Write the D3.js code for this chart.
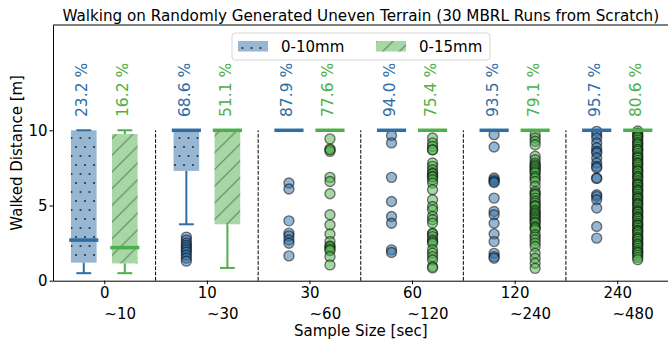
<!DOCTYPE html>
<html>
<head>
<meta charset="utf-8">
<script src="https://cdn.jsdelivr.net/npm/d3@7"></script>
<style>
  body { margin: 0; background: #fff; }
  text { font-family: "DejaVu Sans", sans-serif; }
</style>
</head>
<body>
<div id="chart"></div>
<script>
// sample sizes (x groups) and second label line
const groups = ["0", "10", "30", "60", "120", "240"];
const subLabels = ["~10", "~30", "~60", "~120", "~240", "~480"];
const seriesNames = ["0-10mm", "0-15mm"];

// success rates printed above each box
const pct10 = [23.2, 68.6, 87.9, 94.0, 93.5, 95.7];
const pct15 = [16.2, 51.1, 77.6, 75.4, 79.1, 80.6];

// box stats per group: [whisker low, q1, median, q3, whisker high]
const box10 = [
  [0.5, 1.2, 2.7, 10, 10],
  [3.75, 7.3, 10, 10, 10],
  [10, 10, 10, 10, 10],
  [10, 10, 10, 10, 10],
  [10, 10, 10, 10, 10],
  [10, 10, 10, 10, 10]
];
const box15 = [
  [0.5, 1.15, 2.2, 9.75, 10],
  [0.85, 3.75, 10, 10, 10],
  [10, 10, 10, 10, 10],
  [10, 10, 10, 10, 10],
  [10, 10, 10, 10, 10],
  [10, 10, 10, 10, 10]
];

// outliers per group
const fliers10 = [
  [],
  [2.9, 2.7, 2.5, 2.35, 2.2, 2.05, 1.9, 1.7, 1.5, 1.3],
  [6.5, 6.1, 3.98, 3.16, 2.98, 2.71, 2.49, 1.65],
  [9.65, 9.16, 6.87, 5.27, 4.27, 3.82, 2.05, 1.87],
  [9.71, 8.89, 6.83, 6.7, 6.6, 6.53, 5.49, 4.6, 4.38, 3.82, 3.11, 2.6, 1.82, 1.6, 1.49],
  [9.93, 9.7, 9.49, 9.16, 8.83, 8.6, 8.49, 8.16, 7.83, 7.6, 7.49, 6.83, 6.8, 5.71, 5.6, 5.38, 4.83, 3.6, 2.83]
];
const fliers15 = [
  [],
  [],
  [9.43, 8.76, 8.6, 8.7, 6.87, 6.6, 5.78, 4.38, 3.71, 3.11, 2.6, 2.31, 2.25, 2.09, 2.0, 1.6, 1.05],
  [9.49, 9.16, 8.93, 8.71, 8.7, 7.83, 7.6, 7.38, 7.16, 7.1, 6.93, 6.9, 6.71, 6.49, 6.05, 5.38, 4.93,
   4.71, 4.27, 4.05, 3.83, 3.16, 3.1, 2.93, 2.71, 2.6, 2.49, 2.05, 1.83, 1.6, 1.38, 0.93, 0.85],
  [9.7, 9.49, 9.27, 9.04, 8.27, 8.04, 7.82, 7.7, 7.6, 7.5, 7.38, 7.25, 7.16, 6.93, 6.8, 6.6, 6.27,
   5.93, 5.8, 5.71, 5.49, 5.3, 5.16, 5.0, 4.93, 4.71, 4.6, 4.49, 4.4, 4.27, 4.15, 4.04, 3.9, 3.82,
   3.6, 3.5, 3.38, 3.05, 2.9, 2.71, 2.5, 2.27, 1.82, 1.49, 1.16, 0.82],
  [9.95, 9.8, 9.65, 9.6, 9.5, 9.35, 9.2, 9.1, 9.05, 8.9, 8.75, 8.7, 8.6, 8.45, 8.3, 8.2, 8.15, 8.0,
   7.85, 7.8, 7.7, 7.55, 7.4, 7.3, 7.25, 7.1, 6.95, 6.9, 6.8, 6.65, 6.5, 6.4, 6.35, 6.2, 6.05, 6.0,
   5.9, 5.75, 5.6, 5.5, 5.45, 5.3, 5.15, 5.1, 5.0, 4.85, 4.7, 4.6, 4.55, 4.4, 4.25, 4.2, 4.1, 3.95,
   3.8, 3.7, 3.65, 3.5, 3.35, 3.3, 3.2, 3.05, 2.9, 2.8, 2.75, 2.6, 2.45, 2.4, 2.3, 2.15, 2.0, 1.9,
   1.85, 1.7, 1.55, 1.4]
];

const blue = "#2f6da5";
const green = "#4daf4a";

const series = [
  { name: seriesNames[0], color: blue, off: -0.2, box: box10, fliers: fliers10, pct: pct10, hatch: "url(#dots)" },
  { name: seriesNames[1], color: green, off: 0.2, box: box15, fliers: fliers15, pct: pct15, hatch: "url(#diag)" }
];

const width = 668, height = 339;
const svg = d3.select("#chart").append("svg").attr("width", width).attr("height", height);

// hatch patterns
const defs = svg.append("defs");
const dots = defs.append("pattern").attr("id", "dots").attr("patternUnits", "userSpaceOnUse")
  .attr("width", 9).attr("height", 18).attr("x", 2).attr("y", 1);
dots.append("circle").attr("cx", 2).attr("cy", 2).attr("r", 1.1).attr("fill", "#253545");
dots.append("circle").attr("cx", 6.5).attr("cy", 11).attr("r", 1.1).attr("fill", "#253545");
const diag = defs.append("pattern").attr("id", "diag").attr("patternUnits", "userSpaceOnUse")
  .attr("width", 16.7).attr("height", 16.7);
diag.append("path").attr("d", "M0,16.7L16.7,0M-4,4L4,-4M12.7,20.7L20.7,12.7")
  .attr("stroke", "#4a5a4a").attr("stroke-opacity", 0.75).attr("stroke-width", 1);

const x = d3.scaleLinear().domain([-0.5, 5.5]).range([53, 668.5]);
const y = d3.scaleLinear().domain([0, 17]).range([280.7, 25]);
const bw = 0.25;

// separators between groups
svg.append("g").selectAll("line").data(d3.range(groups.length - 1)).enter().append("line")
  .attr("x1", d => x(d + 0.5)).attr("x2", d => x(d + 0.5))
  .attr("y1", y(0)).attr("y2", y(10))
  .attr("stroke", "#000").attr("stroke-width", 1).attr("stroke-dasharray", "3.7,1.6");

series.forEach(s => {
  const g = svg.append("g");
  const cx = i => x(i + s.off);

  // boxes
  g.selectAll(".box").data(s.box).enter().append("rect")
    .attr("x", (d, i) => x(i + s.off - bw / 2)).attr("width", x(bw) - x(0))
    .attr("y", d => y(d[3])).attr("height", d => y(d[1]) - y(d[3]))
    .attr("fill", s.color).attr("fill-opacity", 0.5);
  g.selectAll(".hatch").data(s.box).enter().append("rect")
    .attr("x", (d, i) => x(i + s.off - bw / 2)).attr("width", x(bw) - x(0))
    .attr("y", d => y(d[3])).attr("height", d => y(d[1]) - y(d[3]))
    .attr("fill", s.hatch);

  // whiskers
  g.selectAll(".wlo").data(s.box).enter().append("line")
    .attr("x1", (d, i) => cx(i)).attr("x2", (d, i) => cx(i))
    .attr("y1", d => y(d[1])).attr("y2", d => y(d[0]))
    .attr("stroke", s.color).attr("stroke-width", 2);
  g.selectAll(".whi").data(s.box).enter().append("line")
    .attr("x1", (d, i) => cx(i)).attr("x2", (d, i) => cx(i))
    .attr("y1", d => y(d[3])).attr("y2", d => y(d[4]))
    .attr("stroke", s.color).attr("stroke-width", 2);

  // caps
  [0, 4].forEach(k => {
    g.selectAll(".cap" + k).data(s.box).enter().append("line")
      .attr("x1", (d, i) => x(i + s.off - bw / 4)).attr("x2", (d, i) => x(i + s.off + bw / 4))
      .attr("y1", d => y(d[k])).attr("y2", d => y(d[k]))
      .attr("stroke", s.color).attr("stroke-width", 2).attr("stroke-linecap", "square");
  });

  // outliers
  s.fliers.forEach((arr, i) => {
    g.selectAll(".fl" + i).data(arr).enter().append("circle")
      .attr("cx", cx(i)).attr("cy", d => y(d)).attr("r", 5)
      .attr("fill", s.color).attr("fill-opacity", 0.5)
      .attr("stroke", "#000").attr("stroke-opacity", 0.5).attr("stroke-width", 1.4);
  });

  // medians on top
  g.selectAll(".med").data(s.box).enter().append("line")
    .attr("x1", (d, i) => x(i + s.off - bw / 2)).attr("x2", (d, i) => x(i + s.off + bw / 2))
    .attr("y1", d => y(d[2])).attr("y2", d => y(d[2]))
    .attr("stroke", s.color).attr("stroke-width", 3.5).attr("stroke-linecap", "square");

  // percentage labels
  g.selectAll(".pct").data(s.pct).enter().append("text")
    .attr("transform", (d, i) => `translate(${cx(i) + 3.5},117) rotate(-90)`)
    .attr("font-size", 15.5).attr("fill", s.color)
    .text(d => d.toFixed(1) + " %");
});

// axes
const xAxis = svg.append("g").attr("transform", `translate(0,${y(0)})`)
  .call(d3.axisBottom(x).tickValues(d3.range(groups.length)).tickFormat(i => groups[i])
    .tickSize(3.5).tickSizeOuter(0).tickPadding(3.5));
const yAxis = svg.append("g").attr("transform", `translate(${x(-0.5)},0)`)
  .call(d3.axisLeft(y).tickValues([0, 5, 10]).tickSize(3.5).tickSizeOuter(0).tickPadding(2));
[xAxis, yAxis].forEach(a => {
  a.selectAll("text").attr("font-size", 15).attr("font-family", "DejaVu Sans").attr("fill", "#000");
  a.selectAll("line, path").attr("stroke", "#000").attr("stroke-width", 1);
});

// top and right spines
svg.append("line").attr("x1", x(-0.5)).attr("x2", x(5.5)).attr("y1", y(17)).attr("y2", y(17))
  .attr("stroke", "#000").attr("stroke-width", 1);
svg.append("line").attr("x1", x(5.5)).attr("x2", x(5.5)).attr("y1", y(17)).attr("y2", y(0))
  .attr("stroke", "#000").attr("stroke-width", 1);

// second line of tick labels
svg.append("g").selectAll("text").data(subLabels).enter().append("text")
  .attr("x", (d, i) => x(i + 0.155)).attr("y", 318.5)
  .attr("text-anchor", "middle").attr("font-size", 15).text(d => d);

svg.append("text").attr("x", (x(-0.5) + x(5.5)) / 2).attr("y", 335.5)
  .attr("text-anchor", "middle").attr("font-size", 15).text("Sample Size [sec]");

svg.append("text").attr("transform", `translate(22,${(y(0) + y(17)) / 2}) rotate(-90)`)
  .attr("text-anchor", "middle").attr("font-size", 15).text("Walked Distance [m]");

svg.append("text").attr("x", (x(-0.5) + x(5.5)) / 2).attr("y", 21)
  .attr("text-anchor", "middle").attr("font-size", 15.2)
  .text("Walking on Randomly Generated Uneven Terrain (30 MBRL Runs from Scratch)");

// legend
const leg = svg.append("g");
leg.append("rect").attr("x", 232).attr("y", 33).attr("width", 258).attr("height", 27).attr("rx", 3)
  .attr("fill", "#fff").attr("fill-opacity", 0.8).attr("stroke", "#d5d5d5").attr("stroke-width", 1);
const legX = [238, 376];
series.forEach((s, k) => {
  leg.append("rect").attr("x", legX[k]).attr("y", 41).attr("width", 30).attr("height", 10.5)
    .attr("fill", s.color).attr("fill-opacity", 0.5);
  leg.append("rect").attr("x", legX[k]).attr("y", 41).attr("width", 30).attr("height", 10.5)
    .attr("fill", s.hatch);
  leg.append("text").attr("x", legX[k] + 43).attr("y", 51.5).attr("font-size", 15).text(s.name);
});
</script>
</body>
</html>
